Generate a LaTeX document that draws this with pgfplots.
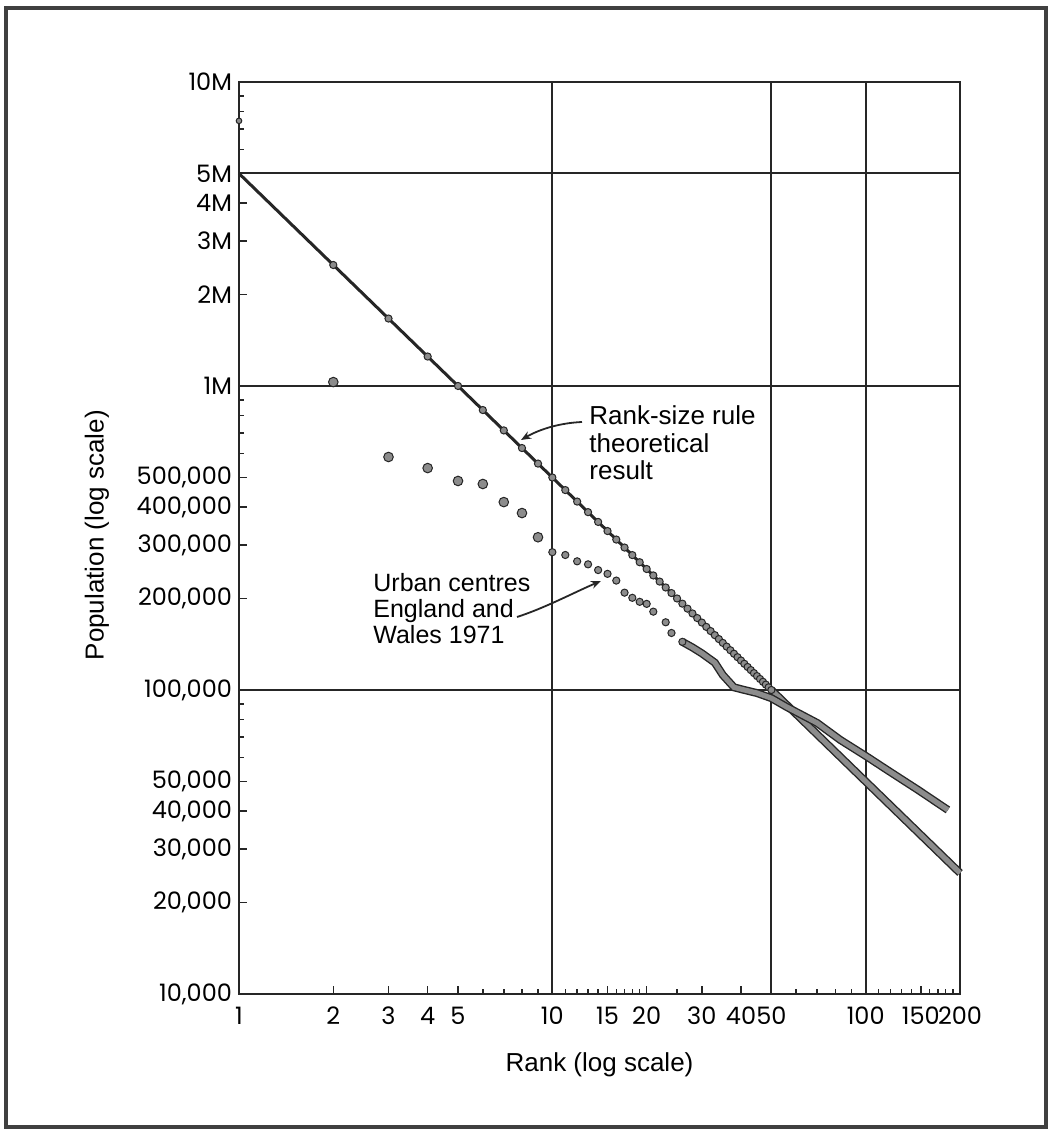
\documentclass[border=0pt]{standalone}
\usepackage{pgfplots}
\pgfplotsset{compat=1.18}
\usepackage{fontspec}
\setmainfont{Liberation Sans}
\newfontfamily\tickfont{Poppins}
\usetikzlibrary{arrows.meta}
\begin{document}
\begin{tikzpicture}
\useasboundingbox (0,0) rectangle (525pt,567.5pt);
\begin{axis}[
  at={(119.5pt,70.5pt)}, anchor=south west,
  scale only axis, width=360.5pt, height=456pt,
  xmode=log, ymode=log,
  xmin=1, xmax=200, ymin=10000, ymax=10000000,
  clip=false,
  axis line style={line width=1.1pt, black!85},
  tick pos=left, tick align=inside,
  major tick length=4pt, minor tick length=2.5pt,
  every tick/.style={line width=0.8pt, black!85},
  xtick={1,2,3,4,5,10,15,20,30,40,50,100,150,200},
  xticklabels={1,2,3,4,5,10,15,20,30,40,50,100,150,200},
  minor xtick={6,7,8,9,11,12,13,14,16,17,18,19,25,60,70,80,90,110,120,130,140,160,170,180,190},
  ytick={10000,20000,30000,40000,50000,100000,200000,300000,400000,500000,1000000,2000000,3000000,4000000,5000000,10000000},
  yticklabels={{10,000},{20,000},{30,000},{40,000},{50,000},{100,000},{200,000},{300,000},{400,000},{500,000},{1M},{2M},{3M},{4M},{5M},{10M}},
  minor ytick={60000,70000,80000,90000,600000,700000,800000,900000,6000000,7000000,8000000,9000000},
  extra x ticks={10,50,100}, extra x tick labels={},
  extra x tick style={grid=major, major tick length=0pt},
  extra y ticks={100000,1000000,5000000}, extra y tick labels={},
  extra y tick style={grid=major, major tick length=0pt},
  major grid style={line width=1pt, black!85},
  xticklabel style={font=\tickfont\fontsize{12}{12}\selectfont, yshift=-3pt},
  yticklabel style={font=\tickfont\fontsize{12}{12}\selectfont},
  xlabel={Rank (log scale)},
  ylabel={Population (log scale)},
  xlabel style={font=\fontsize{13}{15}\selectfont, at={(axis description cs:0.5,-0.078)}, anchor=center},
  ylabel style={font=\fontsize{13}{15}\selectfont, at={(axis description cs:-0.197,0.503)}, anchor=center},
]
% rank-size rule: theoretical line
\addplot[no marks, line width=1.5pt, black!85] coordinates {(1,5000000) (200,25000)};
\addplot[only marks, mark=*, mark size=1.8pt, mark options={fill=black!45, draw=black!85, line width=0.5pt}] coordinates {
(2,2500000) (3,1666667) (4,1250000) (5,1000000) (6,833333) (7,714286) (8,625000) (9,555556) (10,500000)
(11,454545) (12,416667) (13,384615) (14,357143) (15,333333) (16,312500) (17,294118) (18,277778) (19,263158) (20,250000)
(21,238095) (22,227273) (23,217391) (24,208333) (25,200000) (26,192308) (27,185185) (28,178571) (29,172414) (30,166667)
(31,161290) (32,156250) (33,151515) (34,147059) (35,142857) (36,138889) (37,135135) (38,131579) (39,128205) (40,125000)
(41,121951) (42,119048) (43,116279) (44,113636) (45,111111) (46,108696) (47,106383) (48,104167) (49,102041) (50,100000)};
\addplot[no marks, draw=black!85, line width=0.7pt, double=black!45, double distance=2.6pt] coordinates {(50,100000) (200,25000)};
% urban centres, England and Wales 1971
\addplot[only marks, mark=*, mark size=1.4pt, mark options={fill=black!45, draw=black!85, line width=0.5pt}] coordinates {(1,7450000)};
\addplot[only marks, mark=*, mark size=2.4pt, mark options={fill=black!45, draw=black!85, line width=0.5pt}] coordinates {
(2,1030000) (3,584000) (4,537000) (5,487000) (6,476000) (7,415000) (8,382000) (9,318000)};
\addplot[no marks, draw=black!85, line width=0.7pt, double=black!45, double distance=2.6pt] coordinates {
(26,144000) (28,138000) (30,132000) (33,123000) (35,112000) (38,102000) (41,100000) (45,97700) (50,94000)
(56,87900) (70,77900) (83,68500) (101,60300) (117,54600) (147,46900) (183,40300)};
\addplot[only marks, mark=*, mark size=1.8pt, mark options={fill=black!45, draw=black!85, line width=0.5pt}] coordinates {
(10,284000) (11,278000) (12,265000) (13,259000) (14,248000) (15,241000) (16,229000) (17,209000) (18,201000)
(19,195000) (20,192000) (21,181000) (23,167000) (24,154000) (26,144000)};
\end{axis}
\begin{scope}[x=0.5pt,y=0.5pt]
\draw[line width=2.4pt, black!75] (6,8) rectangle (1046,1127);
\begin{scope}[font=\fontsize{13}{15}\selectfont]
\node[anchor=base west, inner sep=0] at (589,710) {Rank-size rule};
\node[anchor=base west, inner sep=0] at (589,682) {theoretical};
\node[anchor=base west, inner sep=0] at (589,655) {result};
\end{scope}
\begin{scope}[font=\fontsize{12.5}{15}\selectfont]
\node[anchor=base west, inner sep=0] at (373,543) {Urban centres};
\node[anchor=base west, inner sep=0] at (373,517) {England and};
\node[anchor=base west, inner sep=0] at (373,491) {Wales 1971};
\end{scope}
\draw[line width=0.9pt, black!85, -{Stealth[length=5pt,width=4pt]}] (582,713) .. controls (560,712) and (540,706) .. (521,695);
\draw[line width=0.9pt, black!85, -{Stealth[length=5pt,width=4pt]}] (517,518) .. controls (545,527) and (575,543) .. (601,554);
\end{scope}
\end{tikzpicture}
\end{document}
